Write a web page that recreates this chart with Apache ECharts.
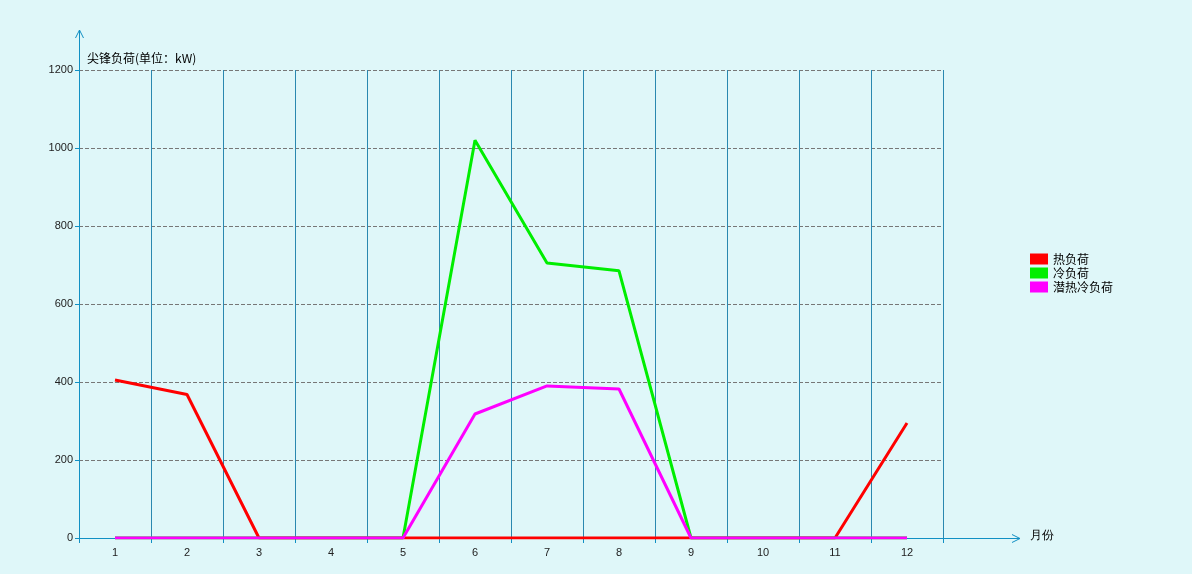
<!DOCTYPE html>
<html><head><meta charset="utf-8">
<script src="https://cdn.jsdelivr.net/npm/echarts@6/dist/echarts.min.js"></script>
<style>html,body{margin:0;padding:0;background:#dff7f9}#c{width:1192px;height:574px}</style>
</head><body><div id="c"></div>
<script>
const months = ['1','2','3','4','5','6','7','8','9','10','11','12'];
const heatLoad = [405, 368, 0, 0, 0, 0, 0, 0, 0, 0, 0, 295];
const coolLoad = [0, 0, 0, 0, 0, 1020, 705, 685, 0, 0, 0, 0];
const latentCoolLoad = [0, 0, 0, 0, 0, 318, 390, 382, 0, 0, 0, 0];
const seriesNames = ['热负荷', '冷负荷', '潜热冷负荷'];
const colors = ['#ff0000', '#00ee00', '#ff00ff'];

const chart = echarts.init(document.getElementById('c'));
const axisColor = '#1190c4';
const font = '"Noto Sans CJK SC", "DejaVu Sans", sans-serif';
const numFont = '"Liberation Sans", Arial, sans-serif';
const G = {left: 79, top: 70, width: 864, height: 468};
const axisBottom = G.top + G.height;
chart.setOption({
  backgroundColor: '#dff7f9',
  animation: false,
  textStyle: {fontFamily: font},
  grid: {left: G.left, top: G.top, width: G.width, height: G.height},
  legend: {
    orient: 'vertical', left: 1025, top: 248, itemWidth: 18, itemHeight: 11, itemGap: 2,
    icon: 'rect', textStyle: {fontSize: 12, color: '#000', fontFamily: font},
    data: seriesNames
  },
  xAxis: {
    type: 'category', data: months, boundaryGap: true,
    axisLine: {lineStyle: {color: axisColor, width: 1}},
    axisTick: {show: true, length: 5, lineStyle: {color: axisColor}},
    axisLabel: {fontSize: 11, color: '#222', margin: 9, fontFamily: numFont},
    splitLine: {show: true, lineStyle: {color: '#2a88b0', width: 1, type: 'solid'}}
  },
  yAxis: {
    type: 'value', min: 0, max: 1200, interval: 200,
    name: '尖锋负荷(单位：kW)', nameGap: 6, nameLocation: 'end',
    nameTextStyle: {align: 'left', fontSize: 12, color: '#000', padding: [0, 0, 0, 8], fontFamily: font},
    axisLine: {show: true, lineStyle: {color: axisColor, width: 1}},
    axisTick: {show: true, length: 4, lineStyle: {color: axisColor}},
    axisLabel: {fontSize: 11, color: '#222', margin: 6, fontFamily: numFont, padding: [2, 0, 0, 0], formatter: v => String(v)},
    splitLine: {show: true, lineStyle: {color: '#777', width: 1, type: [4, 2]}}
  },
  series: [
    {name: seriesNames[0], type: 'line', data: heatLoad, symbol: 'none', lineStyle: {width: 3, color: colors[0]}, itemStyle: {color: colors[0]}, z: 2},
    {name: seriesNames[1], type: 'line', data: coolLoad, symbol: 'none', lineStyle: {width: 3, color: colors[1]}, itemStyle: {color: colors[1]}, z: 3},
    {name: seriesNames[2], type: 'line', data: latentCoolLoad, symbol: 'none', lineStyle: {width: 3, color: colors[2]}, itemStyle: {color: colors[2]}, z: 4}
  ],
  graphic: [
    {type: 'line', shape: {x1: G.left + G.width, y1: axisBottom + 0.5, x2: 1020, y2: axisBottom + 0.5}, style: {stroke: axisColor, lineWidth: 1}},
    {type: 'polyline', shape: {points: [[1012, axisBottom - 3.5], [1020, axisBottom + 0.5], [1012, axisBottom + 4.5]]}, style: {stroke: axisColor, fill: null, lineWidth: 1}},
    {type: 'line', shape: {x1: G.left + 0.5, y1: G.top, x2: G.left + 0.5, y2: 30}, style: {stroke: axisColor, lineWidth: 1}},
    {type: 'polyline', shape: {points: [[G.left - 3.5, 38], [G.left + 0.5, 30], [G.left + 4.5, 38]]}, style: {stroke: axisColor, fill: null, lineWidth: 1}},
    {type: 'text', left: 1030, top: 530, style: {text: '月份', fontSize: 12, fill: '#000', font: '12px ' + font}}
  ]
});
</script></body></html>
